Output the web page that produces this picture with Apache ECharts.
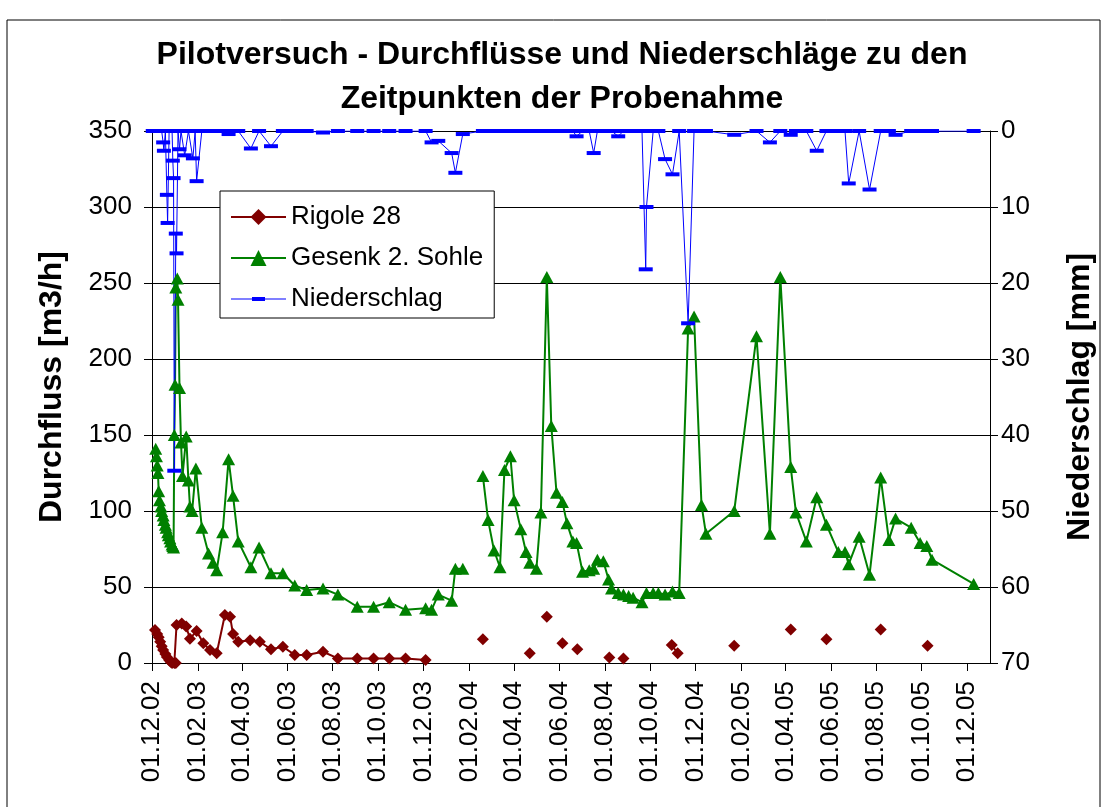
<!DOCTYPE html>
<html>
<head>
<meta charset="utf-8">
<script src="https://cdn.jsdelivr.net/npm/echarts@6/dist/echarts.min.js"></script>
<style>
  html, body {margin: 0; padding: 0; background: #fff;}
  #chart {width: 1107px; height: 807px;}
</style>
</head>
<body>
<div id="chart"></div>
<script>
const FONT = "'Liberation Sans', Arial, sans-serif";

// X TICKS (every second month)
const xTicks = ['2002-12-01', '2003-02-01', '2003-04-01', '2003-06-01', '2003-08-01', '2003-10-01',
  '2003-12-01', '2004-02-01', '2004-04-01', '2004-06-01', '2004-08-01', '2004-10-01', '2004-12-01',
  '2005-02-01', '2005-04-01', '2005-06-01', '2005-08-01', '2005-10-01', '2005-12-01'];

// RIGOLE 28 (null = no sample that day)
const rigoleDates = ['2002-12-05', '2002-12-08', '2002-12-10', '2002-12-12', '2002-12-14', '2002-12-16',
  '2002-12-19', '2002-12-21', '2002-12-24', '2002-12-26', '2002-12-28', '2002-12-31', '2003-01-02',
  '2003-01-03', '2003-01-10', '2003-01-16', '2003-01-21', '2003-01-30', '2003-02-08', '2003-02-17',
  '2003-02-26', '2003-03-09', '2003-03-16', '2003-03-20', '2003-03-27', '2003-04-12', '2003-04-25',
  '2003-05-10', '2003-05-26', '2003-06-11', '2003-06-27', '2003-07-19', '2003-08-08', '2003-09-03',
  '2003-09-25', '2003-10-16', '2003-11-07', '2003-12-04', '2004-01-13', '2004-02-19', '2004-03-27',
  '2004-04-22', '2004-05-01', '2004-05-15', '2004-05-21', '2004-06-05', '2004-06-11', '2004-06-25',
  '2004-07-11', '2004-08-07', '2004-08-19', '2004-08-26', '2004-09-20', '2004-10-30', '2004-11-07',
  '2004-11-21', '2005-01-22', '2005-02-21', '2005-04-08', '2005-04-29', '2005-05-26', '2005-06-20',
  '2005-08-07', '2005-08-27', '2005-10-09'];
const rigoleValues = [21.7, 19, 17, 14, 11, 8.6,
  6, 4, 2, 0.8, 0, 0, 0,
  25, 26, 24, 16, 21, 13, 8.6,
  6.4, 31.6, 30.5, 19, 14, 15, 14,
  9, 10.7, 5.3, 5.3, 7.4, 3, 3,
  3, 3, 3, 2, null, 15.6, null,
  6.4, null, 30.5, null, 13, null, 9,
  null, 3.7, null, 3, null, 11.8, 6.4,
  null, 11.4, null, 22.1, null, 15.6, null,
  22.1, null, 11.4];

// GESENK 2. SOHLE
const gesenkDates = ['2002-12-06', '2002-12-07', '2002-12-08', '2002-12-09', '2002-12-10', '2002-12-11',
  '2002-12-13', '2002-12-14', '2002-12-16', '2002-12-17', '2002-12-19', '2002-12-20', '2002-12-22',
  '2002-12-23', '2002-12-25', '2002-12-26', '2002-12-28', '2002-12-29', '2002-12-30', '2002-12-31',
  '2003-01-01', '2003-01-02', '2003-01-04', '2003-01-05', '2003-01-07', '2003-01-09', '2003-01-11',
  '2003-01-16', '2003-01-19', '2003-01-21', '2003-01-24', '2003-01-29', '2003-02-06', '2003-02-15',
  '2003-02-21', '2003-02-26', '2003-03-06', '2003-03-14', '2003-03-20', '2003-03-27', '2003-04-13',
  '2003-04-24', '2003-05-10', '2003-05-26', '2003-06-11', '2003-06-27', '2003-07-19', '2003-08-08',
  '2003-09-03', '2003-09-25', '2003-10-16', '2003-11-07', '2003-12-04', '2003-12-12', '2003-12-21',
  '2004-01-08', '2004-01-13', '2004-01-23', '2004-02-01', '2004-02-19', '2004-02-26', '2004-03-05',
  '2004-03-13', '2004-03-19', '2004-03-27', '2004-04-01', '2004-04-10', '2004-04-17', '2004-04-22',
  '2004-05-01', '2004-05-07', '2004-05-15', '2004-05-21', '2004-05-28', '2004-06-05', '2004-06-11',
  '2004-06-19', '2004-06-24', '2004-07-02', '2004-07-11', '2004-07-17', '2004-07-22', '2004-07-30',
  '2004-08-06', '2004-08-10', '2004-08-19', '2004-08-26', '2004-09-02', '2004-09-08', '2004-09-20',
  '2004-09-26', '2004-10-05', '2004-10-12', '2004-10-21', '2004-10-31', '2004-11-09', '2004-11-21',
  '2004-11-29', '2004-12-09', '2004-12-15', '2005-01-22', '2005-02-21', '2005-03-11', '2005-03-25',
  '2005-04-08', '2005-04-15', '2005-04-29', '2005-05-13', '2005-05-26', '2005-06-11', '2005-06-20',
  '2005-06-25', '2005-07-09', '2005-07-23', '2005-08-07', '2005-08-18', '2005-08-27', '2005-09-17',
  '2005-09-29', '2005-10-08', '2005-10-15', '2005-12-10'];
const gesenkValues = [141, 136, 130, 125, 113, 107,
  103, 100, 97, 94, 91, 89, 86,
  84, 82, 80, 78, 77, 76, 150,
  183, 247, 253, 239, 181, 145, 123,
  149, 120, 103, 100, 128, 89, 72,
  66, 61, 86, 134, 110, 80, 63,
  76, 59, 59, 51, 48, 49, 45,
  37, 37, 40, 35, 36, 35, 45,
  41, 62, 62, null, 123, 94, 74,
  63, 127, 136, 107, 88, 73, 66,
  62, 99, 254, 156, 112, 106, 92,
  80, 79, 60, 61, 62, 68, 67,
  55, 49, 46, 45, 44, 43, 40,
  46, 46, 46, 45, 47, 46, 220,
  228, 104, 85, 100, 215, 85, 254,
  129, 99, 80, 109, 91, 73, 73,
  65, 83, 58, 122, 81, 95, 89,
  79, 77, 68, 52];

// NIEDERSCHLAG [mm]
const regenDates = ['2002-12-02', '2002-12-04', '2002-12-06', '2002-12-08', '2002-12-10', '2002-12-12',
  '2002-12-14', '2002-12-16', '2002-12-17', '2002-12-19', '2002-12-21', '2002-12-22', '2002-12-24',
  '2002-12-26', '2002-12-28', '2002-12-29', '2002-12-30', '2002-12-31', '2003-01-02', '2003-01-03',
  '2003-01-05', '2003-01-07', '2003-01-09', '2003-01-11', '2003-01-14', '2003-01-19', '2003-01-21',
  '2003-01-25', '2003-01-28', '2003-01-30', '2003-02-06', '2003-02-15', '2003-02-21', '2003-02-26',
  '2003-03-06', '2003-03-14', '2003-03-20', '2003-03-27', '2003-04-13', '2003-04-24', '2003-05-10',
  '2003-05-26', '2003-06-11', '2003-06-27', '2003-07-19', '2003-08-08', '2003-09-03', '2003-09-25',
  '2003-10-16', '2003-11-07', '2003-12-04', '2003-12-12', '2003-12-21', '2004-01-08', '2004-01-13',
  '2004-01-23', '2004-02-19', '2004-02-26', '2004-03-05', '2004-03-13', '2004-03-19', '2004-03-27',
  '2004-04-01', '2004-04-10', '2004-04-17', '2004-04-22', '2004-05-01', '2004-05-07', '2004-05-15',
  '2004-05-21', '2004-05-28', '2004-06-05', '2004-06-11', '2004-06-19', '2004-06-24', '2004-07-02',
  '2004-07-11', '2004-07-17', '2004-07-22', '2004-07-30', '2004-08-06', '2004-08-10', '2004-08-19',
  '2004-08-26', '2004-09-02', '2004-09-08', '2004-09-20', '2004-09-25', '2004-09-26', '2004-10-05',
  '2004-10-12', '2004-10-21', '2004-10-31', '2004-11-09', '2004-11-21', '2004-11-29', '2004-12-09',
  '2004-12-15', '2005-01-22', '2005-02-21', '2005-03-11', '2005-03-25', '2005-04-08', '2005-04-15',
  '2005-04-29', '2005-05-13', '2005-05-26', '2005-06-11', '2005-06-20', '2005-06-25', '2005-07-09',
  '2005-07-23', '2005-08-07', '2005-08-18', '2005-08-27', '2005-09-17', '2005-09-29', '2005-10-08',
  '2005-10-15', '2005-12-10'];
const regenValues = [0, 0, 0, 0, 0, 0,
  0, 1.5, 2.6, 0, 8.4, 12.1, 0,
  0, 0, 3.9, 6.2, 44.7, 13.5, 16.1,
  0, 2.4, 0, 0, 3.2, 0, 0,
  3.6, 0, 6.6, 0, 0, 0, 0,
  0, 0.4, 0, 0, 2.3, 0, 2.0,
  0, 0, 0, 0.2, 0, 0, 0,
  0, 0, 0, 1.5, 1.3, 2.9, 5.5,
  0.4, 0, 0, 0, 0, 0, 0,
  0, 0, 0, 0, 0, 0, 0,
  0, 0, 0, 0, 0, 0.7, 0,
  0, 2.9, 0, 0, 0, 0, 0.7,
  0, 0, 0, 0, 18.2, 10, 0,
  0, 3.7, 5.7, 0, 25.3, 0, 0,
  0, 0.5, 0, 1.5, 0, 0.5, 0,
  0, 2.6, 0, 0, 0, 6.9, 0,
  7.7, 0, 0, 0.5, 0, 0, 0,
  0, 0];


function pairs(dates, values){
  return dates.map((d, i) => [Date.parse(d), values[i]]);
}

function pad(n){
  return (n < 10 ? '0' : '') + n;
}

function dateLabel(v){
  const d = new Date(v);
  return pad(d.getUTCDate()) + '.' + pad(d.getUTCMonth() + 1) + '.' + String(d.getUTCFullYear()).slice(2);
}

function lineSeries(name, data, color, symbol, size, width, axis){
  return {
    name, type: 'line', data, yAxisIndex: axis,
    symbol, symbolSize: size, connectNulls: false,
    lineStyle: {color, width}, itemStyle: {color},
    emphasis: {disabled: true}, animation: false
  };
}

const tickValues = xTicks.map((d) => Date.parse(d));
const axisText = {color: '#000', fontSize: 26, fontFamily: FONT};
const nameText = {fontSize: 32, fontWeight: 'bold', color: '#000', fontFamily: FONT};
const axisLine = {show: true, lineStyle: {color: '#000', width: 1}};
const axisTick = {show: true, length: 8, lineStyle: {color: '#000'}};

// line + flat dash, same proportions as the legend item box
const dashIcon = 'path://M0,9.5H55V10.5H0Z M21,8H34V12H21Z';

const chart = echarts.init(document.getElementById('chart'), null, {renderer: 'canvas'});
chart.setOption({
  backgroundColor: '#fff',
  animation: false,
  title: {
    text: 'Pilotversuch - Durchflüsse und Niederschläge zu den\nZeitpunkten der Probenahme',
    left: 562, top: 33, padding: 0, textAlign: 'center',
    textStyle: {fontSize: 32, fontWeight: 'bold', color: '#000', fontFamily: FONT, lineHeight: 44}
  },
  legend: {
    orient: 'vertical', left: 220, top: 191,
    itemWidth: 55, itemHeight: 20, itemGap: 11,
    padding: [11, 11, 4, 10],
    backgroundColor: '#fff', borderColor: '#000', borderWidth: 1,
    textStyle: {fontSize: 26, color: '#000', fontFamily: FONT, lineHeight: 30},
    data: [{name: 'Rigole 28'}, {name: 'Gesenk 2. Sohle'}, {name: 'Niederschlag', icon: dashIcon}]
  },
  grid: {left: 152, right: 117, top: 131, bottom: 144},
  xAxis: {
    type: 'value',
    min: Date.parse('2002-12-01'), max: Date.parse('2006-01-01'),
    axisLine: axisLine,
    axisTick: Object.assign({customValues: tickValues}, axisTick),
    axisLabel: Object.assign({customValues: tickValues, rotate: 90, margin: 18, formatter: dateLabel}, axisText),
    splitLine: {show: false}
  },
  yAxis: [
    {
      type: 'value', min: 0, max: 350, interval: 50,
      name: 'Durchfluss [m3/h]', nameLocation: 'middle', nameGap: 84,
      nameTextStyle: Object.assign({padding: [0, 0, 0, 20]}, nameText),
      axisLine, axisTick,
      axisLabel: Object.assign({margin: 20}, axisText),
      splitLine: {show: true, lineStyle: {color: '#000', width: 1}}
    },
    {
      type: 'value', min: 0, max: 70, interval: 10, inverse: true, position: 'right',
      name: 'Niederschlag [mm]', nameLocation: 'middle', nameGap: 74, nameRotate: 90,
      nameTextStyle: nameText,
      axisLine, axisTick,
      axisLabel: Object.assign({margin: 11}, axisText),
      splitLine: {show: false}
    }
  ],
  series: [
    lineSeries('Rigole 28', pairs(rigoleDates, rigoleValues), '#800000', 'diamond', 12, 2, 0),
    lineSeries('Gesenk 2. Sohle', pairs(gesenkDates, gesenkValues), '#008000', 'triangle', [13, 12], 2, 0),
    lineSeries('Niederschlag', pairs(regenDates, regenValues), '#0000ff', 'rect', [14, 4], 1, 1)
  ],
  graphic: [{
    type: 'rect', silent: true, z: -10,
    shape: {x: 7, y: 20, width: 1093, height: 800},
    style: {fill: 'none', stroke: '#000', lineWidth: 1}
  }]
});
</script>
</body>
</html>
